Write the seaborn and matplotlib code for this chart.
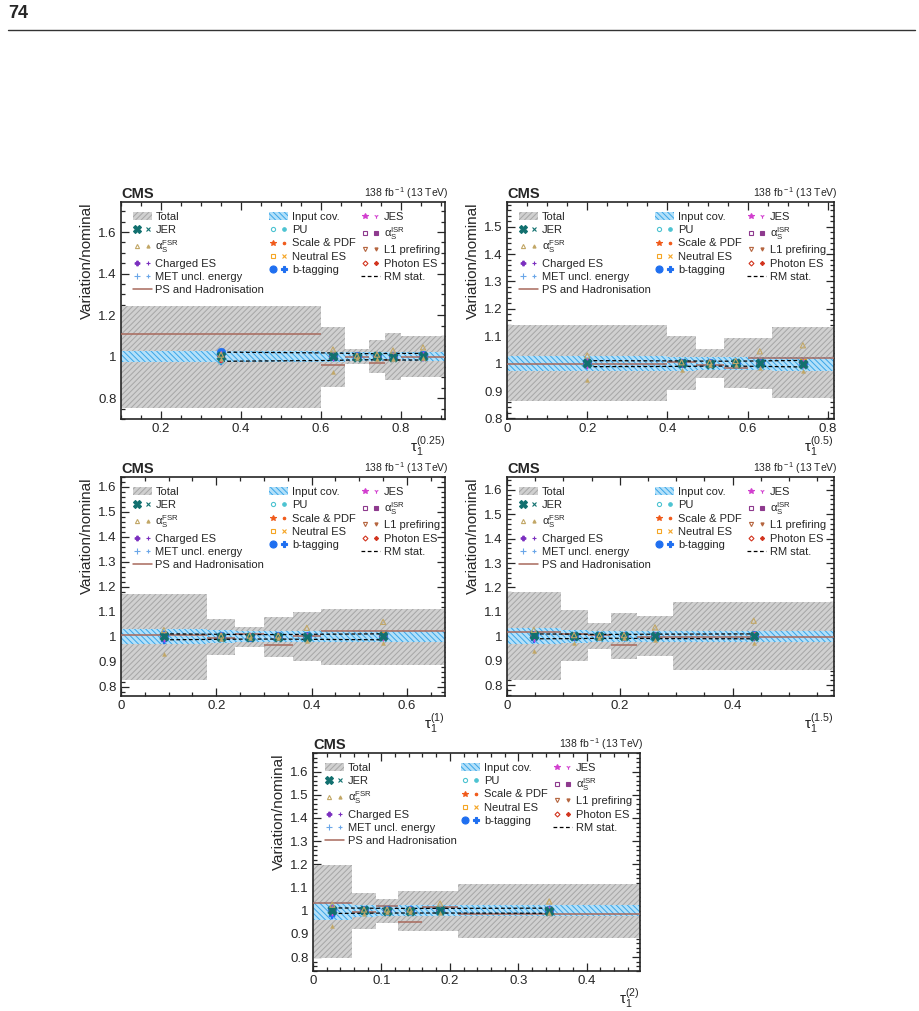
import numpy as np
import matplotlib
matplotlib.use("Agg")
import matplotlib.pyplot as plt
import seaborn as sns
from matplotlib.lines import Line2D
from matplotlib.patches import Patch
from matplotlib.legend_handler import HandlerTuple
from matplotlib.ticker import MultipleLocator, FormatStrFormatter

# one row per panel: tau_1^(0.25), tau_1^(0.5), tau_1^(1), tau_1^(1.5), tau_1^(2)
panel_xlabels = [r"$\mathrm{τ}_1^{(0.25)}$", r"$\mathrm{τ}_1^{(0.5)}$", r"$\mathrm{τ}_1^{(1)}$",
                 r"$\mathrm{τ}_1^{(1.5)}$", r"$\mathrm{τ}_1^{(2)}$"]

bin_edges = [
    [0.1, 0.6, 0.66, 0.72, 0.76, 0.8, 0.91],
    [0.0, 0.4, 0.47, 0.54, 0.6, 0.66, 0.815],
    [0.0, 0.18, 0.24, 0.3, 0.36, 0.42, 0.68],
    [0.0, 0.095, 0.143, 0.185, 0.23, 0.295, 0.58],
    [0.0, 0.0565, 0.0925, 0.124, 0.159, 0.2125, 0.478],
]

total_hi = [
    [1.245, 1.144, 1.035, 1.080, 1.112, 1.100],
    [1.141, 1.100, 1.055, 1.092, 1.095, 1.133],
    [1.173, 1.073, 1.040, 1.080, 1.100, 1.113],
    [1.181, 1.106, 1.054, 1.095, 1.082, 1.140],
    [1.199, 1.076, 1.050, 1.086, 1.086, 1.115],
]
total_lo = [
    [0.752, 0.856, 0.965, 0.920, 0.888, 0.900],
    [0.864, 0.904, 0.949, 0.910, 0.909, 0.873],
    [0.827, 0.927, 0.960, 0.920, 0.903, 0.887],
    [0.823, 0.898, 0.948, 0.909, 0.921, 0.864],
    [0.798, 0.919, 0.945, 0.911, 0.911, 0.882],
]
input_cov = [
    [0.027, 0.025, 0.022, 0.022, 0.022, 0.022],
    [0.027, 0.026, 0.024, 0.024, 0.024, 0.025],
    [0.030, 0.026, 0.022, 0.022, 0.022, 0.022],
    [0.033, 0.026, 0.022, 0.022, 0.022, 0.022],
    [0.038, 0.026, 0.024, 0.024, 0.024, 0.024],
]
rm_stat = [
    [0.022, 0.018, 0.015, 0.015, 0.016, 0.016],
    [0.011, 0.010, 0.009, 0.009, 0.010, 0.012],
    [0.012, 0.010, 0.009, 0.009, 0.010, 0.012],
    [0.010, 0.009, 0.008, 0.008, 0.009, 0.010],
    [0.012, 0.011, 0.010, 0.010, 0.010, 0.011],
]
ps_had = [
    [1.109, 0.958, 1.000, 0.968, 0.985, 1.000],
    [0.997, 1.007, 0.996, 0.985, 1.019, 1.019],
    [1.009, 0.996, 1.013, 0.967, 1.003, 1.023],
    [1.016, 1.010, 1.007, 0.963, 0.996, 0.996],
    [1.032, 0.993, 1.022, 0.952, 1.017, 0.986],
]

# up / down variations per systematic (rows = panels, columns = bins)
jes_up = [[1.012, 1.004, 1.002, 1.003, 1.004, 1.006], [1.008, 1.003, 1.002, 1.003, 1.004, 1.005],
          [1.009, 1.003, 1.002, 1.002, 1.003, 1.005], [1.010, 1.003, 1.002, 1.002, 1.003, 1.005],
          [1.010, 1.003, 1.002, 1.002, 1.003, 1.004]]
jes_dn = [[0.988, 0.996, 0.998, 0.997, 0.996, 0.994], [0.992, 0.997, 0.998, 0.997, 0.996, 0.995],
          [0.990, 0.997, 0.998, 0.998, 0.997, 0.995], [0.990, 0.997, 0.998, 0.998, 0.997, 0.996],
          [0.988, 0.997, 0.998, 0.998, 0.997, 0.996]]
jer_up = [[1.003, 1.001, 1.000, 1.001, 1.000, 1.001], [1.004, 1.001, 1.000, 1.001, 1.002, 1.000],
          [1.003, 1.000, 1.000, 1.000, 1.001, 1.002], [1.004, 1.001, 1.000, 1.000, 1.001, 1.001],
          [1.005, 1.001, 1.000, 1.000, 1.001, 1.000]]
jer_dn = [[0.998, 0.999, 1.000, 0.999, 0.999, 0.998], [0.997, 0.999, 1.000, 0.999, 0.998, 0.999],
          [0.998, 1.000, 1.000, 1.000, 0.999, 0.998], [0.997, 0.999, 1.000, 1.000, 0.999, 0.999],
          [0.996, 0.999, 1.000, 1.000, 0.999, 1.000]]
pu_up = [[0.978, 1.002, 1.001, 1.001, 1.002, 1.003], [1.004, 1.002, 1.001, 1.001, 1.002, 1.003],
         [1.005, 1.002, 1.001, 1.001, 1.002, 1.003], [1.005, 1.002, 1.001, 1.001, 1.002, 1.003],
         [1.006, 1.002, 1.001, 1.001, 1.002, 1.002]]
pu_dn = [[0.996, 0.998, 0.999, 0.999, 0.998, 0.997], [0.996, 0.998, 0.999, 0.999, 0.998, 0.997],
         [0.995, 0.998, 0.999, 0.999, 0.998, 0.997], [0.995, 0.998, 0.999, 0.999, 0.998, 0.997],
         [0.994, 0.998, 0.999, 0.999, 0.998, 0.998]]
isr_up = [[1.004, 1.002, 1.001, 1.001, 1.002, 1.003], [1.003, 1.002, 1.001, 1.001, 1.002, 1.002],
          [1.004, 1.002, 1.001, 1.001, 1.002, 1.002], [1.004, 1.002, 1.001, 1.001, 1.002, 1.002],
          [1.005, 1.002, 1.001, 1.001, 1.002, 1.002]]
isr_dn = [[0.994, 0.998, 0.999, 0.999, 0.998, 0.997], [0.995, 0.998, 0.999, 0.999, 0.998, 0.998],
          [0.993, 0.998, 0.999, 0.999, 0.998, 0.998], [0.993, 0.998, 0.999, 0.999, 0.998, 0.998],
          [0.992, 0.998, 0.999, 0.999, 0.998, 0.998]]
fsr_up = [[1.010, 1.035, 1.005, 1.010, 1.030, 1.045], [1.030, 1.005, 1.005, 1.010, 1.045, 1.067],
          [1.027, 1.005, 1.005, 1.005, 1.036, 1.060], [1.027, 1.005, 1.005, 1.005, 1.037, 1.064],
          [1.026, 1.005, 1.005, 1.005, 1.031, 1.040]]
fsr_dn = [[0.990, 0.925, 0.995, 0.990, 0.990, 0.995], [0.940, 0.976, 0.995, 0.995, 0.985, 0.972],
          [0.933, 0.990, 0.995, 0.995, 0.985, 0.976], [0.939, 0.973, 0.995, 0.995, 0.985, 0.973],
          [0.935, 0.985, 0.995, 0.995, 0.990, 0.990]]
scale_up = [[1.006, 1.003, 1.002, 1.005, 1.003, 1.004], [1.006, 1.003, 1.002, 1.004, 1.003, 1.004],
            [1.007, 1.003, 1.002, 1.003, 1.003, 1.004], [1.007, 1.003, 1.002, 1.003, 1.003, 1.004],
            [1.008, 1.003, 1.002, 1.003, 1.003, 1.003]]
scale_dn = [[0.995, 0.997, 0.998, 0.996, 0.997, 0.996], [0.995, 0.997, 0.998, 0.996, 0.997, 0.996],
            [0.994, 0.997, 0.998, 0.997, 0.997, 0.996], [0.994, 0.997, 0.998, 0.997, 0.997, 0.996],
            [0.993, 0.997, 0.998, 0.997, 0.997, 0.997]]
l1_up = [[1.002, 1.001, 1.001, 1.001, 1.001, 1.001], [1.002, 1.001, 1.001, 1.001, 1.001, 1.001],
         [1.002, 1.001, 1.001, 1.001, 1.001, 1.001], [1.002, 1.001, 1.001, 1.001, 1.001, 1.001],
         [1.002, 1.001, 1.001, 1.001, 1.001, 1.001]]
l1_dn = [[0.998, 0.999, 0.999, 0.999, 0.999, 0.999], [0.998, 0.999, 0.999, 0.999, 0.999, 0.999],
         [0.998, 0.999, 0.999, 0.999, 0.999, 0.999], [0.998, 0.999, 0.999, 0.999, 0.999, 0.999],
         [0.998, 0.999, 0.999, 0.999, 0.999, 0.999]]
chg_up = [[1.005, 1.002, 1.001, 1.002, 1.002, 1.003], [1.004, 1.002, 1.001, 1.002, 1.002, 1.003],
          [1.005, 1.002, 1.001, 1.002, 1.002, 1.003], [1.005, 1.002, 1.001, 1.002, 1.002, 1.003],
          [1.006, 1.002, 1.001, 1.002, 1.002, 1.002]]
chg_dn = [[0.995, 0.998, 0.999, 0.998, 0.998, 0.997], [0.996, 0.998, 0.999, 0.998, 0.998, 0.997],
          [0.995, 0.998, 0.999, 0.998, 0.998, 0.997], [0.995, 0.998, 0.999, 0.998, 0.998, 0.997],
          [0.994, 0.998, 0.999, 0.998, 0.998, 0.998]]
neu_up = [[1.004, 1.002, 1.001, 1.006, 1.002, 1.004], [1.004, 1.002, 1.001, 1.005, 1.002, 1.008],
          [1.004, 1.002, 1.001, 1.002, 1.002, 1.008], [1.004, 1.002, 1.001, 1.002, 1.002, 1.007],
          [1.005, 1.002, 1.001, 1.002, 1.002, 1.006]]
neu_dn = [[0.996, 0.998, 0.999, 0.998, 0.998, 0.996], [0.996, 0.998, 0.999, 0.998, 0.998, 0.994],
          [0.996, 0.998, 0.999, 0.998, 0.998, 0.994], [0.996, 0.998, 0.999, 0.998, 0.998, 0.995],
          [0.995, 0.998, 0.999, 0.998, 0.998, 0.995]]
pho_up = [[1.002, 1.001, 1.001, 1.001, 1.001, 1.001], [1.002, 1.001, 1.001, 1.001, 1.001, 1.001],
          [1.002, 1.001, 1.001, 1.001, 1.001, 1.001], [1.002, 1.001, 1.001, 1.001, 1.001, 1.001],
          [1.002, 1.001, 1.001, 1.001, 1.001, 1.001]]
pho_dn = [[0.977, 0.999, 0.999, 0.999, 0.999, 0.999], [0.998, 0.999, 0.999, 0.999, 0.999, 0.999],
          [0.998, 0.999, 0.999, 0.999, 0.999, 0.999], [0.998, 0.999, 0.999, 0.999, 0.999, 0.999],
          [0.998, 0.999, 0.999, 0.999, 0.999, 0.999]]
met_up = [[1.003, 1.001, 1.001, 1.001, 1.001, 1.002], [1.003, 1.001, 1.001, 1.001, 1.001, 1.002],
          [1.003, 1.001, 1.001, 1.001, 1.001, 1.002], [1.003, 1.001, 1.001, 1.001, 1.001, 1.002],
          [1.003, 1.001, 1.001, 1.001, 1.001, 1.002]]
met_dn = [[0.997, 0.999, 0.999, 0.999, 0.999, 0.998], [0.997, 0.999, 0.999, 0.999, 0.999, 0.998],
          [0.997, 0.999, 0.999, 0.999, 0.999, 0.998], [0.997, 0.999, 0.999, 0.999, 0.999, 0.998],
          [0.997, 0.999, 0.999, 0.999, 0.999, 0.998]]
btag_up = [[1.022, 1.003, 1.001, 1.002, 1.003, 1.010], [1.006, 1.002, 1.001, 1.002, 1.003, 1.004],
           [1.006, 1.002, 1.001, 1.002, 1.003, 1.004], [1.006, 1.002, 1.001, 1.002, 1.003, 1.004],
           [1.007, 1.002, 1.001, 1.002, 1.003, 1.004]]
btag_dn = [[0.975, 0.997, 0.999, 0.998, 0.997, 0.995], [0.990, 0.997, 0.999, 0.998, 0.997, 0.994],
           [0.983, 0.997, 0.999, 0.998, 0.997, 0.994], [0.985, 0.997, 0.999, 0.998, 0.997, 0.994],
           [0.977, 0.997, 0.999, 0.998, 0.997, 0.995]]

# ---- styles ----
sns.set_style("ticks")
plt.rcParams["font.family"] = ["Liberation Sans", "DejaVu Sans"]
plt.rcParams["mathtext.fontset"] = "custom"
plt.rcParams["mathtext.rm"] = "Liberation Sans"
plt.rcParams["mathtext.it"] = "Liberation Sans:italic"
plt.rcParams["mathtext.bf"] = "Liberation Sans:bold"
plt.rcParams["hatch.linewidth"] = 0.7
plt.rcParams["xtick.direction"] = "in"
plt.rcParams["ytick.direction"] = "in"

TOTAL_FC, TOTAL_HC = "#d0d0d0", "#a6a6a6"
INCOV_FC, INCOV_HC = "#b3e0f9", "#3aa5e8"
PS_COLOR = "#a8695c"

# label, colour, up marker, up open?, up size, down marker, down size, up data, down data
systs = {
    "btag": ("b-tagging", "#1f6ff0", "o", False, 40, "P", 22, btag_up, btag_dn),
    "met": ("MET uncl. energy", "#6aa6e8", "+", False, 22, "+", 10, met_up, met_dn),
    "chg": ("Charged ES", "#7b2fbf", "P", False, 18, "+", 12, chg_up, chg_dn),
    "neu": ("Neutral ES", "#f5a524", "s", True, 14, "x", 10, neu_up, neu_dn),
    "pho": ("Photon ES", "#d2341e", "D", True, 10, "D", 7, pho_up, pho_dn),
    "l1": ("L1 prefiring", "#b5653f", "v", True, 14, "v", 8, l1_up, l1_dn),
    "scale": ("Scale & PDF", "#f05a1a", "*", False, 26, "o", 5, scale_up, scale_dn),
    "isr": (r"$\mathrm{α}_{\rm S}^{\rm ISR}$", "#8e3a8e", "s", True, 14, "s", 10, isr_up, isr_dn),
    "pu": ("PU", "#4cc3d1", "o", True, 14, "o", 10, pu_up, pu_dn),
    "jes": ("JES", "#d23ecf", "*", False, 26, "1", 16, jes_up, jes_dn),
    "jer": ("JER", "#12706f", "X", False, 48, "x", 16, jer_up, jer_dn),
    "fsr": (r"$\mathrm{α}_{\rm S}^{\rm FSR}$", "#c2a766", "^", True, 14, "^", 8, fsr_up, fsr_dn),
}

# panel geometry in pixels: left, right, top, bottom
panel_px = [(121, 445, 202, 419), (507, 834, 202, 419), (121, 445, 477, 696),
            (507, 834, 477, 696), (313, 640, 753, 971)]
ylims = [(0.7, 1.745), (0.798, 1.59), (0.763, 1.64), (0.756, 1.652), (0.74, 1.68)]
xmajor = [0.2, 0.2, 0.2, 0.2, 0.1]
xminor = [0.05, 0.05, 0.05, 0.05, 0.02]
ymajor = [0.2, 0.1, 0.1, 0.1, 0.1]
yminor = [0.05, 0.02, 0.02, 0.02, 0.02]

W, H = 920, 1011
fig = plt.figure(figsize=(W / 100, H / 100), dpi=100)


def legend_pair(key):
    lab, c, mu, op, su, md, sd, _, _ = systs[key]
    h1 = Line2D([], [], ls="", marker=mu, color=c, ms=np.sqrt(su) * 0.8,
                mfc="none" if op else c, mew=0.8)
    h2 = Line2D([], [], ls="", marker=md, color=c, ms=np.sqrt(sd) * 0.8, mew=0.8)
    return (h1, h2), lab


for i in range(5):
    l, r, t, b = panel_px[i]
    ax = fig.add_axes([l / W, 1 - b / H, (r - l) / W, (b - t) / H])
    edges = np.array(bin_edges[i])
    left = edges[:-1]
    width = np.diff(edges)
    centers = left + width / 2
    hi = np.array(total_hi[i])
    lo = np.array(total_lo[i])
    cov = np.array(input_cov[i])
    rms = np.array(rm_stat[i])

    ax.bar(left, hi - lo, width=width, bottom=lo, align="edge", color=TOTAL_FC,
           edgecolor=TOTAL_HC, hatch="//////", linewidth=0, zorder=1)
    ax.bar(left, 2 * cov, width=width, bottom=1 - cov, align="edge", color=INCOV_FC,
           edgecolor=INCOV_HC, hatch="\\\\\\\\\\\\", linewidth=0, zorder=2)
    ax.hlines(ps_had[i], edges[:-1], edges[1:], color=PS_COLOR, lw=1.1, zorder=3)
    for sign in (1, -1):
        sns.lineplot(x=centers, y=1 + sign * rms, color="black", lw=0.9,
                     linestyle=(0, (3, 2)), errorbar=None, sort=False, ax=ax, zorder=4)

    z = 5
    for key, (lab, c, mu, op, su, md, sd, up, dn) in systs.items():
        if op:
            sns.scatterplot(x=centers, y=up[i], marker=mu, s=su, color=c, facecolor="none",
                            edgecolor=c, linewidth=0.8, ax=ax, zorder=z, legend=False)
        elif mu in ("+", "x", "1"):
            sns.scatterplot(x=centers, y=up[i], marker=mu, s=su, color=c, linewidth=1.0,
                            ax=ax, zorder=z, legend=False)
        else:
            sns.scatterplot(x=centers, y=up[i], marker=mu, s=su, color=c, edgecolor=c,
                            linewidth=0.3, ax=ax, zorder=z, legend=False)
        if md in ("+", "x", "1"):
            sns.scatterplot(x=centers, y=dn[i], marker=md, s=sd, color=c, linewidth=1.0,
                            ax=ax, zorder=z, legend=False)
        else:
            sns.scatterplot(x=centers, y=dn[i], marker=md, s=sd, color=c, edgecolor=c,
                            linewidth=0.3, ax=ax, zorder=z, legend=False)
        z += 1

    ax.set_xlim(edges[0], edges[-1])
    ax.set_ylim(*ylims[i])
    ax.xaxis.set_major_locator(MultipleLocator(xmajor[i]))
    ax.xaxis.set_minor_locator(MultipleLocator(xminor[i]))
    ax.yaxis.set_major_locator(MultipleLocator(ymajor[i]))
    ax.yaxis.set_minor_locator(MultipleLocator(yminor[i]))
    ax.xaxis.set_major_formatter(FormatStrFormatter("%g"))
    ax.yaxis.set_major_formatter(FormatStrFormatter("%g"))
    ax.tick_params(which="both", top=True, right=True, direction="in", width=0.9,
                   labelsize=9.5, pad=3)
    ax.tick_params(which="major", length=6)
    ax.tick_params(which="minor", length=3)
    for sp in ax.spines.values():
        sp.set_linewidth(1.2)
    ax.set_ylabel("Variation/nominal", fontsize=11, loc="top", labelpad=3)
    ax.set_xlabel(panel_xlabels[i], fontsize=11, loc="right", labelpad=0)

    ax.text(0.0, 1.006, "CMS", transform=ax.transAxes, fontsize=10.5, fontweight="bold",
            ha="left", va="bottom")
    ax.text(1.01, 1.006, r"138 fb$^{\rm -1}$ (13 TeV)", transform=ax.transAxes,
            fontsize=7.5, ha="right", va="bottom")

    total_h = Patch(facecolor=TOTAL_FC, edgecolor=TOTAL_HC, hatch="//////", lw=0)
    incov_h = Patch(facecolor=INCOV_FC, edgecolor=INCOV_HC, hatch="\\\\\\\\\\\\", lw=0)
    ps_h = Line2D([], [], color=PS_COLOR, lw=1.1)
    rm_h = Line2D([], [], color="black", lw=0.9, ls=(0, (3, 2)))
    col1 = [(total_h, "Total")] + [legend_pair(k) for k in ("jer", "fsr", "chg", "met")] + \
           [(ps_h, "PS and Hadronisation")]
    col2 = [(incov_h, "Input cov.")] + [legend_pair(k) for k in ("pu", "scale", "neu", "btag")]
    col3 = [legend_pair(k) for k in ("jes", "isr", "l1", "pho")] + [(rm_h, "RM stat.")]
    entries = col1 + col2 + col3
    ax.legend([e[0] for e in entries], [e[1] for e in entries], ncol=3, loc="upper left",
              bbox_to_anchor=(0.036, 0.955), frameon=False, fontsize=8, handlelength=1.7,
              handletextpad=0.35, columnspacing=0.45, labelspacing=0.3, borderpad=0,
              borderaxespad=0, handler_map={tuple: HandlerTuple(ndivide=None, pad=0.3)})

# page header
fig.text(8 / W, 1 - 13 / H, "74", fontsize=13, fontweight="bold", ha="left", va="center")
fig.add_artist(Line2D([8 / W, 915 / W], [1 - 30 / H, 1 - 30 / H], color="#333333", lw=1.0))

fig.savefig("out.png", dpi=100)
